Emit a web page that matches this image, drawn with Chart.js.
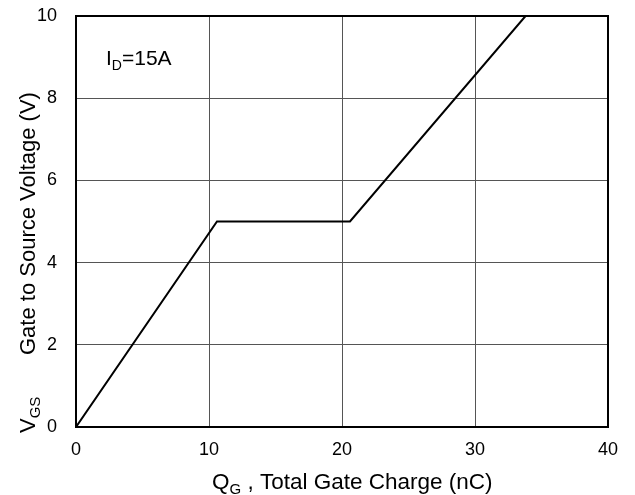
<!DOCTYPE html>
<html>
<head>
<meta charset="utf-8">
<script src="https://cdn.jsdelivr.net/npm/chart.js@4/dist/chart.umd.min.js"></script>
<style>
  html, body { margin: 0; padding: 0; background: #fff; }
  #wrap { width: 635px; height: 495px; }
</style>
</head>
<body>
<div id="wrap"><canvas id="gateChart"></canvas></div>
<script>
// gate charge curve
const chargeNC = [0, 10.6, 20.6, 33.8];
const vgsVolts = [0, 5, 5, 10];
const xTicks = [0, 10, 20, 30, 40];
const yTicks = [0, 2, 4, 6, 8, 10];

const FONT = '"Liberation Sans", Arial, sans-serif';

// draws text pieces with subscripts; parts = [[text, isSub], ...]
function drawRich(ctx, parts, x, y, size) {
  const subSize = Math.round(size * 0.68);
  let cx = x;
  ctx.textBaseline = 'alphabetic';
  ctx.textAlign = 'left';
  parts.forEach(p => {
    ctx.font = (p[1] ? subSize : size) + 'px ' + FONT;
    ctx.fillText(p[0], cx, p[1] ? y + size * 0.22 : y);
    cx += ctx.measureText(p[0]).width;
  });
  return cx;
}

const extras = {
  id: 'extras',
  afterDraw(chart) {
    const { ctx, chartArea: a } = chart;
    ctx.save();
    // frame
    ctx.strokeStyle = '#000';
    ctx.lineWidth = 2;
    ctx.strokeRect(a.left, a.top, a.right - a.left, a.bottom - a.top);
    ctx.fillStyle = '#000';
    // annotation
    drawRich(ctx, [['I', false], ['D', true], ['=15A', false]], 106, 65, 21);
    // x title
    drawRich(ctx, [['Q', false], ['G', true], [' , Total Gate Charge (nC)', false]], 212, 489, 22.5);
    // y title, drawn bottom-up
    ctx.translate(35, 433);
    ctx.rotate(-Math.PI / 2);
    drawRich(ctx, [['V', false], ['GS', true]], 0, 0, 22);
    drawRich(ctx, [['Gate to Source Voltage (V)', false]], 78, 0, 22);
    ctx.restore();
  }
};

new Chart(document.getElementById('gateChart'), {
  type: 'line',
  data: {
    datasets: [{
      data: chargeNC.map((q, i) => ({ x: q, y: vgsVolts[i] })),
      borderColor: '#000',
      borderWidth: 2,
      pointRadius: 0,
      fill: false,
      tension: 0
    }]
  },
  options: {
    responsive: true,
    maintainAspectRatio: false,
    animation: false,
    layout: { padding: { left: 0, top: 16, right: 27, bottom: 0 }, autoPadding: false },
    plugins: { legend: { display: false }, tooltip: { enabled: false } },
    scales: {
      x: {
        type: 'linear',
        min: 0, max: 40,
        afterBuildTicks: s => { s.ticks = xTicks.map(v => ({ value: v })); },
        afterFit: s => { s.height = 68; s.paddingLeft = 0; s.paddingRight = 0; },
        grid: { color: '#555', lineWidth: 1, drawTicks: false },
        border: { display: false },
        ticks: { color: '#000', padding: 12, font: { family: FONT, size: 18 } }
      },
      y: {
        min: 0, max: 10,
        afterBuildTicks: s => { s.ticks = yTicks.map(v => ({ value: v })); },
        afterFit: s => { s.width = 76; s.paddingTop = 0; s.paddingBottom = 0; },
        grid: { color: '#555', lineWidth: 1, drawTicks: false },
        border: { display: false },
        ticks: { color: '#000', padding: 19, font: { family: FONT, size: 18 } }
      }
    }
  },
  plugins: [extras]
});
</script>
</body>
</html>
